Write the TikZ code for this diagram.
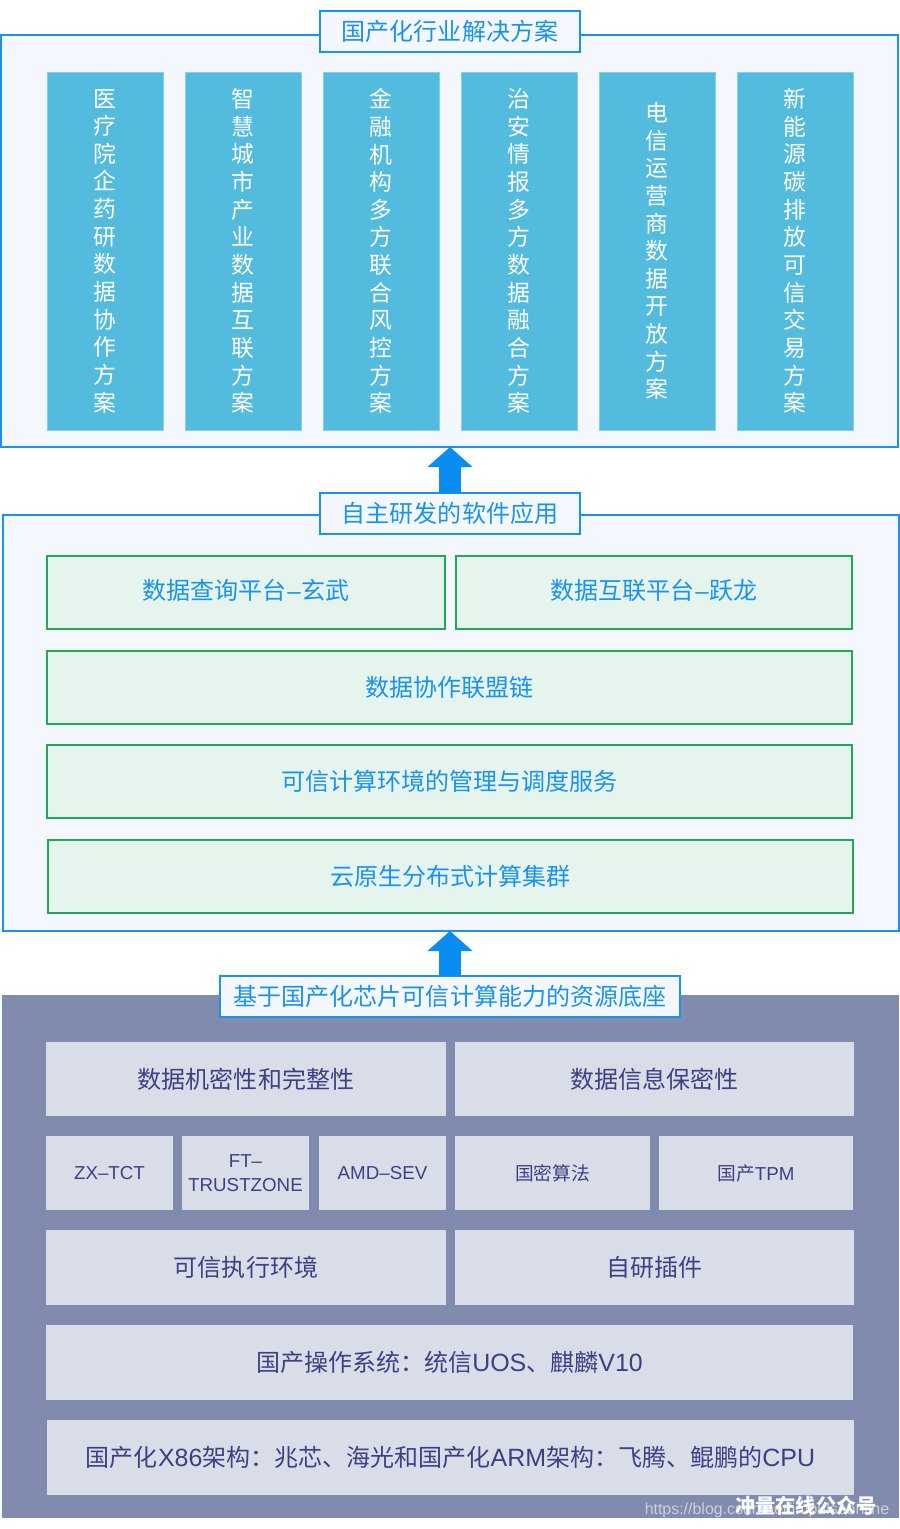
\documentclass[tikz,border=0pt]{standalone}
\usepackage{fontspec}
\usepackage{xcolor}
\usetikzlibrary{arrows.meta}
\setmainfont{Noto Sans CJK SC}
\newfontfamily\latfont{Liberation Sans}
\newfontfamily\biglatfont[Scale=1.04]{Liberation Sans}
\newcommand{\lat}[1]{{\latfont #1}}
\newcommand{\biglat}[1]{{\biglatfont #1}}
\newcommand{\dashmark}{\kern1pt{\latfont –}\kern1pt}
\XeTeXlinebreaklocale "zh"
\XeTeXlinebreakskip=0pt plus 1pt

\definecolor{panelblue}{HTML}{1A92F2}
\definecolor{panelfill}{HTML}{F4F8FE}
\definecolor{colfill}{HTML}{53BBDD}
\definecolor{greenline}{HTML}{22A85A}
\definecolor{greenfill}{HTML}{E6F4EE}
\definecolor{basefill}{HTML}{808BAD}
\definecolor{greyfill}{HTML}{D9DDE8}
\definecolor{greytext}{HTML}{3D4184}
\definecolor{arrowblue}{HTML}{0A8CF0}

\def\px{0.03cm}

\tikzset{
    panel/.style={draw=panelblue,fill=panelfill,line width=1.3pt,outer sep=0pt,inner sep=0pt},
    titlebox/.style={panel,text=panelblue,font=\fontsize{20.5}{24}\selectfont},
    colbox/.style={fill=colfill,draw=colfill!70!white,line width=0.4pt,outer sep=0pt,inner sep=0pt,text=white,
        font=\fontsize{19.5}{23.6}\selectfont},
    greenbox/.style={draw=greenline,fill=greenfill,line width=1.2pt,outer sep=0pt,inner sep=0pt,
        text=panelblue,font=\fontsize{20.5}{24}\selectfont},
    greybox/.style={fill=greyfill,outer sep=0pt,inner sep=0pt,text=greytext,align=center,
        font=\fontsize{20.5}{24}\selectfont},
    bigarrow/.style={draw=arrowblue,line width=0.66cm,-{Triangle[length=0.6cm,width=1.32cm,color=arrowblue]}},
}

\begin{document}
\begin{tikzpicture}[x=0.03cm,y=-0.03cm]
\useasboundingbox (0,0) rectangle (900,1529);

% Panels
\node[panel,minimum width=897*\px,minimum height=412*\px] (toppanel) at (449.5,241) {};
\node[panel,minimum width=896*\px,minimum height=416*\px] (softpanel) at (451,723) {};
\node[fill=basefill,outer sep=0pt,inner sep=0pt,minimum width=897*\px,minimum height=523*\px] (basepanel) at (450.5,1256.5) {};

% Upper panel columns
\foreach \name/\cx/\label in {
    med/105/医疗院企药研数据协作方案,
    city/243/智慧城市产业数据互联方案,
    bank/381/金融机构多方联合风控方案,
    safe/519/治安情报多方数据融合方案,
    tele/657/电信运营商数据开放方案,
    carbon/795/新能源碳排放可信交易方案} {
    \node[colbox,minimum width=116*\px,minimum height=358*\px,text width=21pt,align=center] (\name) at (\cx,251) {\label};
}

% Software boxes
\node[greenbox,minimum width=398*\px,minimum height=73*\px,text height=16pt,text depth=3.4pt] (query) at (246,592.5) {数据查询平台\dashmark 玄武};
\node[greenbox,minimum width=396*\px,minimum height=73*\px,text height=16pt,text depth=3.4pt] (link) at (654,592.5) {数据互联平台\dashmark 跃龙};
\node[greenbox,minimum width=805*\px,minimum height=73*\px] (chain) at (449.5,687.5) {数据协作联盟链};
\node[greenbox,minimum width=805*\px,minimum height=73*\px] (manage) at (449.5,781.5) {可信计算环境的管理与调度服务};
\node[greenbox,minimum width=805*\px,minimum height=73*\px] (cluster) at (450.5,876.5) {云原生分布式计算集群};

% Resource boxes, large text
\foreach \name/\cx/\cy/\w/\h/\label in {
    secure/246/1079/400/74/数据机密性和完整性,
    privacy/654.5/1079/399/74/数据信息保密性,
    tee/246/1267.5/400/75/可信执行环境,
    plugin/654.5/1267.5/399/75/自研插件,
    system/449.5/1362.5/807/75/{国产操作系统：统信\biglat{UOS}、麒麟\biglat{V10}},
    chip/450.5/1457.5/807/75/{国产化\biglat{X86}架构：兆芯、海光和国产化\biglat{ARM}架构：飞腾、鲲鹏的\biglat{CPU}}} {
    \node[greybox,minimum width=\w*\px,minimum height=\h*\px] (\name) at (\cx,\cy) {\label};
}

% Resource boxes, small text
\foreach \name/\cx/\w/\label in {
    zx/109.5/127/\lat{ZX–TCT},
    ft/245.5/127/{\lat{FT–}\\\lat{TRUSTZONE}},
    amd/382.5/127/\lat{AMD–SEV},
    algo/552.5/195/国密算法,
    tpm/756/194/国产\lat{TPM}} {
    \node[greybox,font=\fontsize{16}{20.5}\selectfont,minimum width=\w*\px,minimum height=74*\px] (\name) at (\cx,1173) {\label};
}

% Titles on the panels
\node[titlebox,minimum width=260*\px,minimum height=41*\px] (toptitle) at (450,31.5) {国产化行业解决方案};
\node[titlebox,minimum width=260*\px,minimum height=41*\px] (softtitle) at (450,513.5) {自主研发的软件应用};
\node[titlebox,minimum width=460*\px,minimum height=41*\px] (basetitle) at (450,996.5) {基于国产化芯片可信计算能力的资源底座};

% Arrows between the panels
\draw[bigarrow] (softtitle.north) -- (softtitle.north |- toppanel.south);
\draw[bigarrow] (basetitle.north) -- (basetitle.north |- softpanel.south);

% Watermark
\node[text=white,opacity=0.6,font=\latfont\fontsize{13.6}{16}\selectfont,inner sep=0pt] (bloglink) at (767,1510.5) {https://blog.csdn.net/impulseonline};
\node[text=white,font=\fontsize{17.2}{20}\selectfont\bfseries,inner sep=0pt] (mark) at (806,1505.5) {冲量在线公众号};

\end{tikzpicture}
\end{document}
